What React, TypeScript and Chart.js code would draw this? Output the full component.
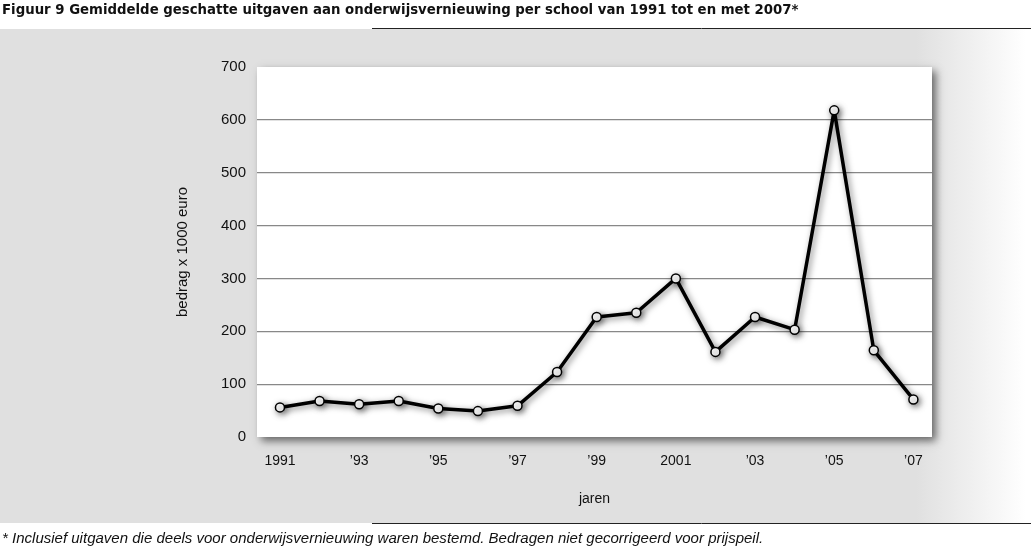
import React, { useEffect, useRef } from "react";
import { Chart, registerables } from "chart.js";

Chart.register(...registerables);

const titleText =
  "Figuur 9 Gemiddelde geschatte uitgaven aan onderwijsvernieuwing per school van 1991 tot en met 2007*";
const footnoteText =
  "* Inclusief uitgaven die deels voor onderwijsvernieuwing waren bestemd. Bedragen niet gecorrigeerd voor prijspeil.";
const yAxisTitle = "bedrag x 1000 euro";
const xAxisTitle = "jaren";

const years = [1991, 1992, 1993, 1994, 1995, 1996, 1997, 1998, 1999, 2000, 2001, 2002, 2003, 2004, 2005, 2006, 2007];
const amounts = [56, 68, 62, 68, 54, 49, 59, 123, 227, 235, 300, 161, 227, 203, 618, 164, 71];

const xTickValues = [1991, 1993, 1995, 1997, 1999, 2001, 2003, 2005, 2007];
const xTickLabels = ["1991", "\u201993", "\u201995", "\u201997", "\u201999", "2001", "\u201903", "\u201905", "\u201907"];
const yTickValues = [0, 100, 200, 300, 400, 500, 600, 700];

const FONT = "'Liberation Sans', Arial, Helvetica, sans-serif";
const TITLE_FONT = "'DejaVu Sans', 'Liberation Sans', sans-serif";

function fitFont(ctx: CanvasRenderingContext2D, style: string, family: string, text: string, target: number) {
  const base = 13;
  ctx.font = `${style} ${base}px ${family}`;
  const w = ctx.measureText(text).width;
  const size = (base * target) / w;
  ctx.font = `${style} ${size.toFixed(2)}px ${family}`;
}

const backdropPlugin = {
  id: "backdrop",
  beforeDraw(chart: any) {
    const ctx = chart.ctx as CanvasRenderingContext2D;
    const w = chart.width;
    const a = chart.chartArea;
    ctx.save();
    ctx.fillStyle = "#ffffff";
    ctx.fillRect(0, 0, w, chart.height);
    ctx.fillStyle = "#e0e0e0";
    ctx.fillRect(0, 29, 916, 494);
    const g = ctx.createLinearGradient(916, 0, 1026, 0);
    g.addColorStop(0, "#e0e0e0");
    g.addColorStop(1, "#ffffff");
    ctx.fillStyle = g;
    ctx.fillRect(916, 29, w - 916, 494);
    ctx.strokeStyle = "#222";
    ctx.lineWidth = 1;
    ctx.beginPath();
    ctx.moveTo(372, 28.5);
    ctx.lineTo(1031, 28.5);
    ctx.moveTo(372, 523.5);
    ctx.lineTo(1031, 523.5);
    ctx.stroke();
    ctx.shadowColor = "rgba(0,0,0,0.55)";
    ctx.shadowBlur = 8;
    ctx.shadowOffsetX = 4;
    ctx.shadowOffsetY = 4;
    ctx.fillStyle = "#ffffff";
    ctx.fillRect(a.left, a.top, a.right - a.left, a.bottom - a.top);
    ctx.restore();

    ctx.save();
    ctx.fillStyle = "#111";
    ctx.textBaseline = "alphabetic";
    ctx.textAlign = "left";
    fitFont(ctx, "bold", TITLE_FONT, titleText, 797);
    ctx.fillText(titleText, 2, 14);
    fitFont(ctx, "italic", FONT, footnoteText, 762);
    ctx.fillText(footnoteText, 2, 543);
    ctx.restore();
  },
  beforeDatasetsDraw(chart: any) {
    const ctx = chart.ctx as CanvasRenderingContext2D;
    ctx.save();
    ctx.shadowColor = "rgba(0,0,0,0.5)";
    ctx.shadowBlur = 6;
    ctx.shadowOffsetX = 2;
    ctx.shadowOffsetY = 2;
  },
  afterDatasetsDraw(chart: any) {
    chart.ctx.restore();
  },
};

export default function App() {
  const canvasRef = useRef<HTMLCanvasElement | null>(null);

  useEffect(() => {
    if (!canvasRef.current) return;
    const chart = new Chart(canvasRef.current, {
      type: "line",
      data: {
        datasets: [
          {
            data: years.map((y, i) => ({ x: y, y: amounts[i] })),
            borderColor: "#000",
            borderWidth: 3.5,
            borderJoinStyle: "round",
            tension: 0,
            pointRadius: 4.5,
            pointBackgroundColor: "#fff",
            pointBorderColor: "#000",
            pointBorderWidth: 1.5,
          },
        ],
      },
      options: {
        animation: false,
        responsive: false,
        events: [],
        layout: { padding: { left: 0, top: 67, right: 99, bottom: 0 } },
        plugins: {
          legend: { display: false },
          tooltip: { enabled: false },
        },
        scales: {
          x: {
            type: "linear",
            position: "bottom",
            min: 1990.42,
            max: 2007.47,
            afterBuildTicks: (scale: any) => {
              scale.ticks = xTickValues.map((v) => ({ value: v }));
            },
            afterFit: (scale: any) => {
              scale.height = 113;
            },
            grid: { display: false, drawTicks: false },
            border: { display: false },
            ticks: {
              padding: 16,
              color: "#111",
              font: { family: FONT, size: 14 },
              maxRotation: 0,
              autoSkip: false,
              callback: (_v: any, i: number) => xTickLabels[i],
            },
            title: {
              display: true,
              text: xAxisTitle,
              color: "#111",
              font: { family: FONT, size: 14 },
              padding: { top: 0, bottom: 42 },
            },
          },
          y: {
            type: "linear",
            min: 0,
            max: 700,
            afterBuildTicks: (scale: any) => {
              scale.ticks = yTickValues.map((v) => ({ value: v }));
            },
            afterFit: (scale: any) => {
              scale.width = 257;
            },
            grid: {
              drawTicks: false,
              lineWidth: 1.2,
              color: (c: any) =>
                c.tick && (c.tick.value === 0 || c.tick.value === 700) ? "rgba(0,0,0,0)" : "#888888",
            },
            border: { display: false },
            ticks: {
              padding: 11,
              color: "#111",
              font: { family: FONT, size: 15 },
            },
            title: {
              display: true,
              text: yAxisTitle,
              color: "#111",
              font: { family: FONT, size: 15 },
              padding: { top: 174, bottom: 0 },
            },
          },
        },
      },
      plugins: [backdropPlugin],
    });
    return () => chart.destroy();
  }, []);

  return (
    <div style={{ position: "absolute", left: 0, top: 0, width: 1031, height: 550 }}>
      <canvas ref={canvasRef} width={1031} height={550} style={{ display: "block" }} />
    </div>
  );
}
